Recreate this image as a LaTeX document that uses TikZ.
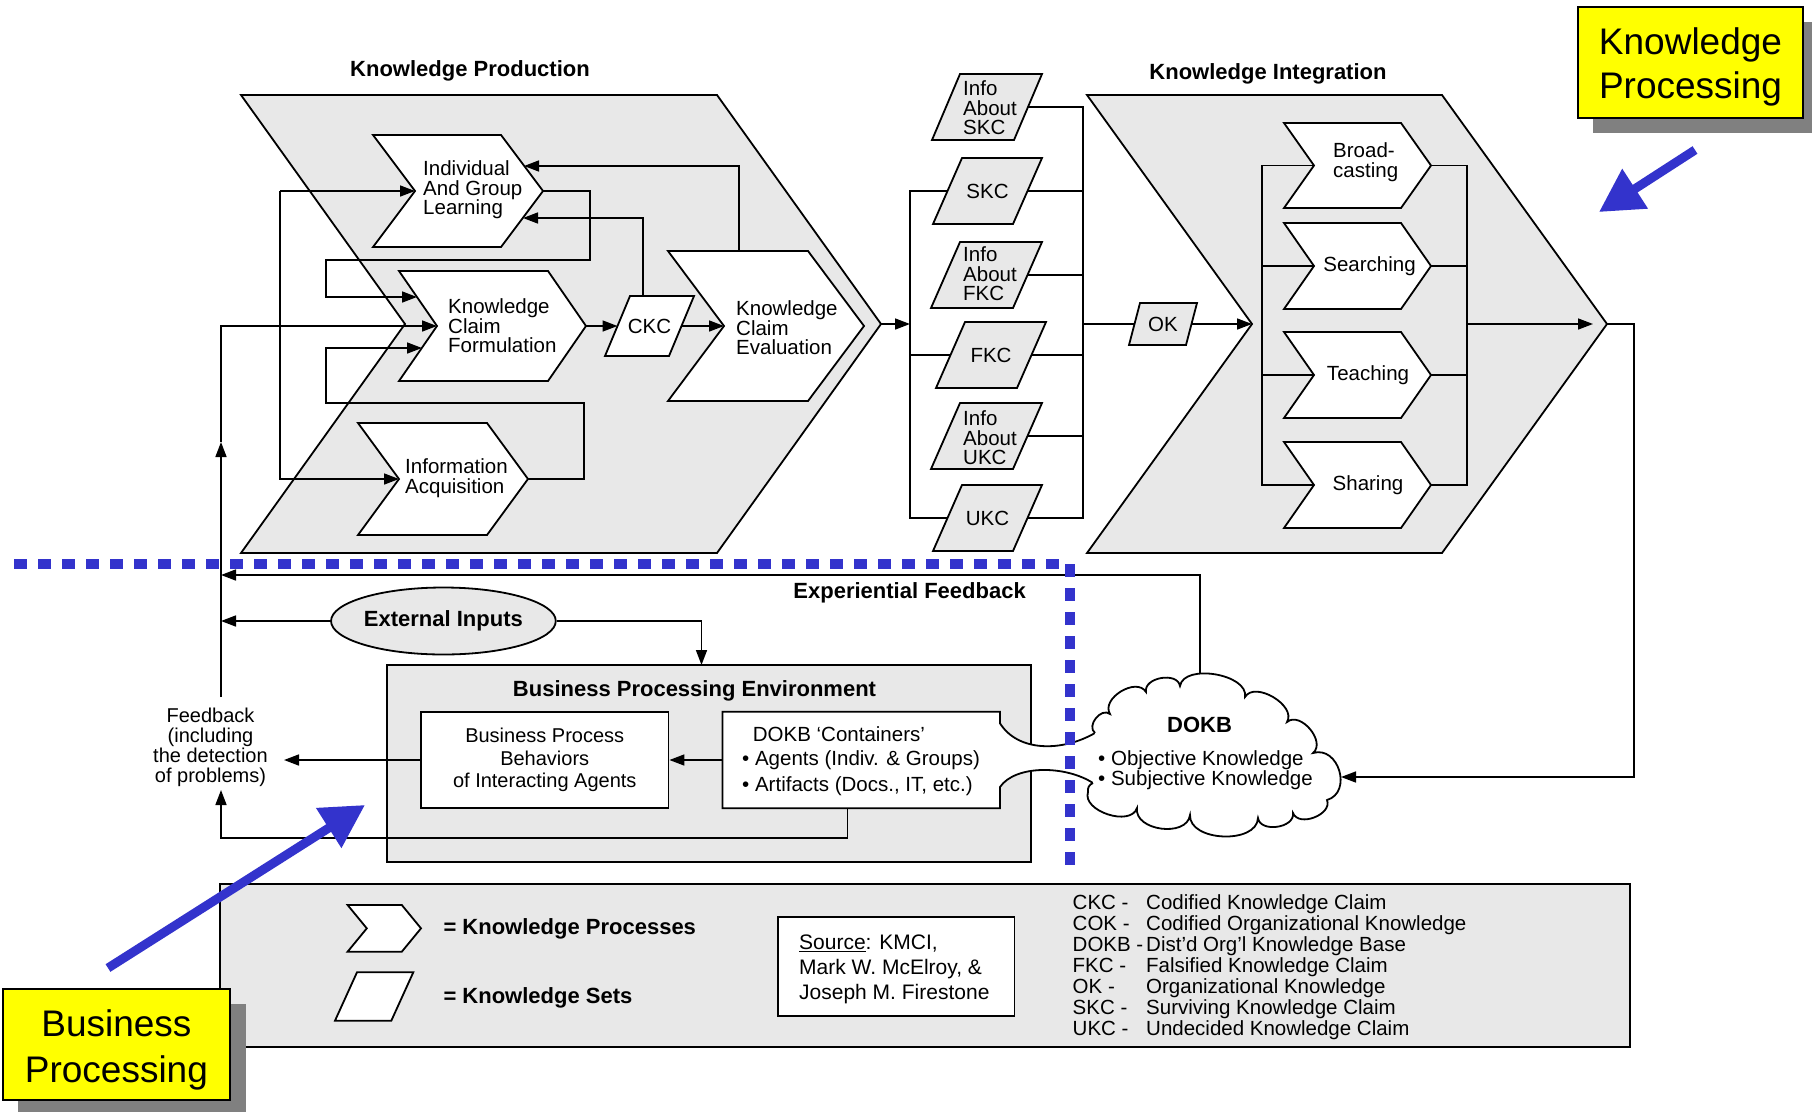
\documentclass[tikz,border=0pt]{standalone}
\usepackage{fontspec}
\setmainfont{Liberation Sans}
\usetikzlibrary{arrows.meta,shapes.geometric,calc}

\definecolor{panel}{RGB}{232,232,232}
\definecolor{markblue}{RGB}{51,51,204}
\definecolor{shadowgray}{RGB}{128,128,128}
\definecolor{noteyellow}{RGB}{255,255,0}

% chevron: name, left x, right x, top y, bottom y, depth, style
\newcommand\kchevron[7]{%
  \path[#7] (#2,#4) -- (#3,#4) -- ({#3+#6},{(#4+#5)/2}) -- (#3,#5) -- (#2,#5) -- ({#2+#6},{(#4+#5)/2}) -- cycle;
  \coordinate (#1-n) at ({#2+#6},{(#4+#5)/2});
  \coordinate (#1-t) at ({#3+#6},{(#4+#5)/2});
}
% parallelogram: name, top-left x, top-right x, top y, bottom y, slant, style
\newcommand\kset[7]{%
  \path[#7] (#2,#4) -- (#3,#4) -- ({#3-#6},#5) -- ({#2-#6},#5) -- cycle;
  \coordinate (#1-l) at ({#2-#6/2},{(#4+#5)/2});
  \coordinate (#1-r) at ({#3-#6/2},{(#4+#5)/2});
  \coordinate (#1-c) at ({(#2+#3-#6)/2},{(#4+#5)/2});
}
\newcommand\abbrcol[1]{\makebox[73.5pt][l]{#1}}

\tikzset{
  conn/.style={line width=1.6pt, line join=miter},
  arr/.style={conn, -{Triangle[length=15pt,width=11pt]}},
  procw/.style={draw, line width=1.8pt, fill=white, line join=miter},
  procg/.style={draw, line width=1.8pt, fill=panel, line join=miter},
  lbl/.style={font=\fontsize{20.5}{19.5}\selectfont, align=left, inner sep=0pt},
  bhead/.style={font=\bfseries\fontsize{22}{24}\selectfont, inner sep=0pt},
  panelbox/.style={draw, line width=1.8pt, fill=panel, inner sep=0pt},
  whitebox/.style={draw, line width=1.8pt, fill=white, inner sep=0pt},
  bigarr/.style={draw=markblue, line width=9pt, -{Triangle[length=43pt,width=45pt]}},
  notebox/.style={draw, line width=2pt, fill=noteyellow, inner sep=0pt, align=center},
  cloudbump/.style={bend left=90, looseness=#1},
}

\begin{document}
\begin{tikzpicture}[x=1pt,y=-1pt]
\useasboundingbox (0,0) rectangle (1812,1111);
\fill[white] (0,0) rectangle (1812,1111);

% ---------------- Knowledge Production ----------------
\node[bhead] (kp-title) at (470,70.5) {Knowledge Production};
\kchevron{kp}{241}{717}{95}{553}{164}{procg}
\kchevron{iagl}{373}{501}{135}{247}{42}{procw}
\kchevron{kcf}{399}{548}{271}{381}{38}{procw}
\kchevron{kce}{668}{808}{251}{401}{56}{procw}
\kchevron{ia}{358}{487}{423}{535}{41}{procw}
\kset{ckc}{630}{694}{296}{356}{25}{procw}

\node[lbl, anchor=west] (iagl-lbl) at (423,190) {Individual\\And Group\\Learning};
\node[lbl, anchor=west] (kcf-lbl) at (448,326) {Knowledge\\Claim\\Formulation};
\node[lbl, anchor=west] (kce-lbl) at (736,328) {Knowledge\\Claim\\Evaluation};
\node[lbl, anchor=west] (ia-lbl) at (405,478) {Information\\Acquisition};
\node[lbl] (ckc-lbl) at (ckc-c) {CKC};

% loops inside the production stage
\coordinate (lx) at (280,0);
\draw[arr] (lx |- iagl-n) -- (iagl-n);
\draw[arr] (lx |- iagl-n) -- (lx |- ia-n) -- (ia-n);

\coordinate (loopA) at (590,260);
\coordinate (loopB) at (326,260);
\coordinate (kcf-e1) at (417,297);
\draw[arr] (iagl-t) -| (loopA) -- (loopB) |- (kcf-e1);

\coordinate (loopC) at (584,403);
\coordinate (loopD) at (326,403);
\coordinate (kcf-e2) at (422,348);
\draw[arr] (ia-t) -| (loopC) -- (loopD) |- (kcf-e2);

\coordinate (iagl-e1) at (524,166);
\coordinate (iagl-e2) at (523,218);
\coordinate (ckc-top) at (643,296);
\coordinate (kce-top) at (739,251);
\draw[arr] (ckc-top) |- (iagl-e2);
\draw[arr] (kce-top) |- (iagl-e1);

\draw[arr] (kcf-t) -- (ckc-l);
\draw[arr] (ckc-r) -- (kce-n);

% ---------------- knowledge sets ----------------
\kset{iskc}{960}{1042}{74}{140}{28}{procg}
\kset{skc}{962}{1042}{158}{224}{29}{procg}
\kset{ifkc}{960}{1042}{242}{308}{29}{procg}
\kset{fkc}{965}{1046}{322}{388}{29}{procg}
\kset{iukc}{960}{1042}{403}{469}{29}{procg}
\kset{ukc}{962}{1042}{485}{551}{29}{procg}

\node[lbl, anchor=west] (iskc-lbl) at (963,108) {Info\\About\\SKC};
\node[lbl] (skc-lbl) at (skc-c) {SKC};
\node[lbl, anchor=west] (ifkc-lbl) at (963,274) {Info\\About\\FKC};
\node[lbl] (fkc-lbl) at (fkc-c) {FKC};
\node[lbl, anchor=west] (iukc-lbl) at (963,438) {Info\\About\\UKC};
\node[lbl] (ukc-lbl) at (ukc-c) {UKC};

\coordinate (colL) at (910,0);
\coordinate (colR) at (1083,0);
\draw[arr] (kp-t) -- (kp-t -| colL);
\draw[conn] (skc-l) -- (skc-l -| colL) -- (ukc-l -| colL) -- (ukc-l);
\draw[conn] (fkc-l) -- (fkc-l -| colL);
\draw[conn] (iskc-r) -- (iskc-r -| colR) -- (ukc-r -| colR) -- (ukc-r);
\foreach \s in {skc,ifkc,fkc,iukc} \draw[conn] (\s-r) -- (\s-r -| colR);

% ---------------- Knowledge Integration ----------------
\node[bhead] (ki-title) at (1268,73.5) {Knowledge Integration};
\kchevron{ki}{1087}{1442}{95}{553}{165}{procg}
\kset{ok}{1140}{1197}{303}{345}{11}{procg}
\node[lbl] (ok-lbl) at (ok-c) {OK};
\draw[conn] (colR |- ok-l) -- (ok-l);
\draw[arr] (ok-r) -- (ok-r -| ki-n);

\kchevron{brd}{1284}{1401}{123}{208}{30}{procw}
\kchevron{srch}{1284}{1401}{223}{309}{30}{procw}
\kchevron{tch}{1284}{1401}{332}{418}{30}{procw}
\kchevron{shr}{1284}{1401}{442}{528}{30}{procw}
\node[lbl, anchor=west] (brd-lbl) at (1333,162) {Broad-\\casting};
\node[lbl] (srch-lbl) at (1369.5,266) {Searching};
\node[lbl] (tch-lbl) at (1368,375) {Teaching};
\node[lbl] (shr-lbl) at (1368,485) {Sharing};

\coordinate (kiL) at (1262,0);
\coordinate (kiR) at (1467,0);
\draw[conn] (brd-n) -- (brd-n -| kiL) -- (shr-n -| kiL) -- (shr-n);
\draw[conn] (srch-n) -- (srch-n -| kiL);
\draw[conn] (tch-n) -- (tch-n -| kiL);
\draw[conn] (brd-t) -- (brd-t -| kiR) -- (shr-t -| kiR) -- (shr-t);
\draw[conn] (srch-t) -- (srch-t -| kiR);
\draw[conn] (tch-t) -- (tch-t -| kiR);
\coordinate (ki-tin) at (1593,324);
\draw[arr] (kiR |- ki-t) -- (ki-tin);

\coordinate (rr) at (1634,0);
\coordinate (cloud-in) at (1341,777);
\draw[arr] (ki-t) -| (rr |- cloud-in) -- (cloud-in);

% ---------------- feedback paths ----------------
\coordinate (fbx) at (221,0);
\coordinate (fb-top) at (221,697);
\coordinate (fb-mid) at (221,442);
\coordinate (fb-bot) at (221,790);
\node[font=\fontsize{20}{20}\selectfont, align=center, inner sep=0pt] (fbtext) at (210.5,747) {Feedback\\(including\\the detection\\of problems)};
\draw[arr] (fb-top) -- (fb-mid);
\draw[arr] (fb-mid) |- (kcf-n);

\coordinate (cloud-top) at (1200,690);
\coordinate (efb-end) at (221,575);
\draw[arr] (cloud-top) |- (efb-end);
\node[bhead, anchor=east] (efb-lbl) at (1026,593) {Experiential Feedback};

% ---------------- business processing ----------------
\node[ellipse, draw, line width=1.8pt, fill=panel, minimum width=222pt, minimum height=67pt, inner sep=0pt, font=\bfseries\fontsize{22}{24}\selectfont] (ext) at (443.4,621) {External Inputs};
\draw[arr] (ext.west) -- (ext.west -| fbx);

\node[panelbox, minimum width=644pt, minimum height=197pt] (bpe) at (709,763.5) {};
\node[bhead] (bpe-title) at (694.5,691) {Business Processing Environment};
\coordinate (bpe-in) at (701.5,665);
\draw[arr] (ext.east) -| (bpe-in);

\node[whitebox, minimum width=247.5pt, minimum height=96.6pt, align=center, font=\fontsize{20}{22.5}\selectfont] (bpb) at (544.75,760) {Business Process\\Behaviors\\of Interacting Agents};

% DOKB containers box with its pipe into the knowledge base
\coordinate (v0) at (1095,733);
\coordinate (v13) at (1093,783);
\fill[white] (722.5,711.7) -- (1000,711.7) -- (1000,723.3) .. controls (1018,752) and (1062,752) .. (v0) -- (v13) .. controls (1065,765) and (1015,765) .. (1000,787) -- (1000,808.3) -- (722.5,808.3) -- cycle;
\draw[line width=1.8pt, line join=miter] (v13) .. controls (1065,765) and (1015,765) .. (1000,787) -- (1000,808.3) -- (722.5,808.3) -- (722.5,711.7) -- (1000,711.7) -- (1000,723.3) .. controls (1018,752) and (1062,752) .. (v0);
\node[lbl, anchor=west] (cont-h) at (752.7,734) {DOKB ‘Containers’};
\node[lbl, anchor=west] (cont-a) at (742,760) {• Agents (Indiv. \& Groups)};
\node[lbl, anchor=west] (cont-f) at (742,786) {• Artifacts (Docs., IT, etc.)};

\coordinate (cont-l) at (722.5,760);
\draw[arr] (cont-l) -- (bpb.east);
\coordinate (fb-arr) at (284,760);
\draw[arr] (bpb.west) -- (fb-arr);
\coordinate (cont-bot) at (847.4,808.3);
\coordinate (loopE) at (221,838);
\draw[arr] (cont-bot) |- (loopE) -- (fb-bot);

% knowledge base cloud
\draw[line width=1.8pt, fill=white]
  (v0) to[cloudbump=1.2] (1110,714) to[cloudbump=1.1] (1146,692)
  to[cloudbump=1.1] (1180,686) to[cloudbump=0.9] (1245,697)
  to[cloudbump=1.0] (1287,722) to[cloudbump=1.1] (1313,753)
  to[cloudbump=1.4] (1327,800) to[cloudbump=1.1] (1293,813)
  to[cloudbump=1.1] (1258,818) to[cloudbump=1.0] (1190,815)
  to[cloudbump=1.1] (1137,808) to[cloudbump=1.0] (1088,792)
  to[bend left=40] (v13);
\node[bhead] (dokb-lbl) at (1199.5,725) {DOKB};
\node[lbl, anchor=west, font=\fontsize{20.5}{18.7}\selectfont] (dokb-items) at (1098,770) {• Objective Knowledge\\• Subjective Knowledge};

% boundary between knowledge and business processing
\draw[markblue, line width=10pt, dash pattern=on 13pt off 11pt] (14,564) -- (1070,564) -- (1070,866);

% ---------------- legend ----------------
\node[panelbox, minimum width=1410.4pt, minimum height=163pt] (legend) at (924.8,965.5) {};
\kchevron{lgp}{347.6}{401.8}{905}{951.7}{19.2}{procw}
\kset{lgs}{357}{413.3}{972.3}{1020.7}{22}{procw}
\node[bhead, anchor=west] (lgp-lbl) at (443.3,929) {= Knowledge Processes};
\node[bhead, anchor=west] (lgs-lbl) at (443.3,997.5) {= Knowledge Sets};
\node[whitebox, minimum width=236.5pt, minimum height=99pt] (src) at (896.25,966.2) {};
\node[anchor=west, align=left, inner sep=0pt, font=\fontsize{21}{25}\selectfont] (src-txt) at (799,969) {\underline{Source}: KMCI,\\Mark W. McElroy, \&\\Joseph M. Firestone};
\node[anchor=west, align=left, inner sep=0pt, font=\fontsize{20.5}{21.1}\selectfont] (abbr) at (1072.5,967) {%
\abbrcol{CKC -}Codified Knowledge Claim\\
\abbrcol{COK -}Codified Organizational Knowledge\\
\abbrcol{DOKB -}Dist’d Org’l Knowledge Base\\
\abbrcol{FKC -}Falsified Knowledge Claim\\
\abbrcol{OK -}Organizational Knowledge\\
\abbrcol{SKC -}Surviving Knowledge Claim\\
\abbrcol{UKC -}Undecided Knowledge Claim};

% ---------------- callouts ----------------
\coordinate (bp-from) at (108,968);
\coordinate (bp-to) at (365,805);
\draw[bigarr] (bp-from) -- (bp-to);
\coordinate (kpr-from) at (1695,150);
\coordinate (kpr-to) at (1599,212);
\draw[bigarr] (kpr-from) -- (kpr-to);

\fill[shadowgray] (1593,22) rectangle (1819,133);
\node[notebox, minimum width=225.6pt, minimum height=111pt] (kpbox) at (1690.5,62.8) {};
\node[font=\fontsize{37}{44}\selectfont, align=center, inner sep=0pt] (kpbox-txt) at (1690.5,67) {Knowledge\\Processing};
\fill[shadowgray] (18,1004) rectangle (245.5,1115);
\node[notebox, minimum width=226.4pt, minimum height=110.7pt] (bpbox) at (116.4,1044.6) {};
\node[font=\fontsize{37}{46}\selectfont, align=center, inner sep=0pt] (bpbox-txt) at (116.4,1050) {Business\\Processing};
\end{tikzpicture}
\end{document}
